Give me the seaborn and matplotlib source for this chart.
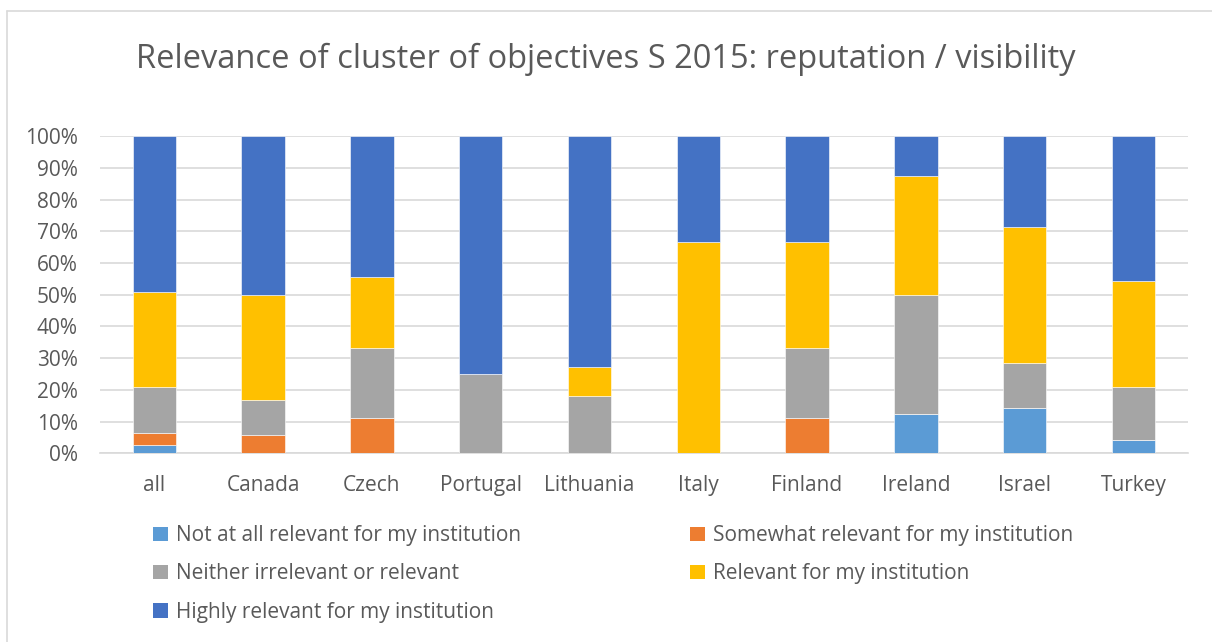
import numpy as np
import pandas as pd
import matplotlib
matplotlib.use("Agg")
import matplotlib.pyplot as plt
import seaborn as sns
from matplotlib.patches import Patch
from matplotlib.lines import Line2D
from matplotlib.ticker import FuncFormatter

# Survey answers per country, share of respondents (%)
countries = ["all", "Canada", "Czech", "Portugal", "Lithuania",
             "Italy", "Finland", "Ireland", "Israel", "Turkey"]
not_relevant = [2.6, 0.0, 0.0, 0.0, 0.0, 0.0, 0.0, 12.5, 14.3, 4.2]
somewhat_relevant = [3.9, 5.6, 11.1, 0.0, 0.0, 0.0, 11.1, 0.0, 0.0, 0.0]
neither = [14.3, 11.1, 22.2, 25.0, 18.2, 0.0, 22.2, 37.5, 14.3, 16.7]
relevant = [29.9, 33.3, 22.2, 0.0, 9.1, 66.7, 33.3, 37.5, 42.8, 33.3]
highly_relevant = [49.3, 50.0, 44.5, 75.0, 72.7, 33.3, 33.4, 12.5, 28.6, 45.8]

series_names = ["Not at all relevant for my institution",
                "Somewhat relevant for my institution",
                "Neither irrelevant or relevant",
                "Relevant for my institution",
                "Highly relevant for my institution"]
series_values = [not_relevant, somewhat_relevant, neither, relevant, highly_relevant]
series_colors = ["#5B9BD5", "#ED7D31", "#A5A5A5", "#FFC000", "#4472C4"]

sns.set_theme(style="white")
plt.rcParams["font.family"] = ["Open Sans", "DejaVu Sans"]
text_color = "#595959"

fig = plt.figure(figsize=(12.12, 6.42), dpi=100)
ax = fig.add_axes([0.0825, 0.294, 0.8975, 0.494])

bottom = np.zeros(len(countries))
for name, vals, col in zip(series_names, series_values, series_colors):
    df = pd.DataFrame({"country": countries, "value": vals})
    sns.barplot(data=df, x="country", y="value", order=countries,
                color=col, width=0.4, bottom=bottom, ax=ax,
                edgecolor="white", linewidth=0.4, saturation=1, zorder=3)
    bottom = bottom + np.array(vals)

ax.set_ylim(0, 100)
ax.set_xlim(-0.5, len(countries) - 0.5)
ax.set_yticks(np.arange(0, 101, 10))
ax.yaxis.set_major_formatter(FuncFormatter(lambda v, p: f"{v:.0f}%"))
ax.grid(axis="y", color="#D9D9D9", linewidth=1.2, zorder=0)
ax.set_axisbelow(True)
for s in ["top", "right", "left"]:
    ax.spines[s].set_visible(False)
ax.spines["bottom"].set_color("#D9D9D9")
ax.spines["bottom"].set_linewidth(1.2)
ax.set_xlabel("")
ax.set_ylabel("")
ax.tick_params(axis="both", length=0, colors=text_color, labelsize=15)
ax.tick_params(axis="x", pad=16)
ax.tick_params(axis="y", pad=16)

fig.text(0.5, 0.908, "Relevance of cluster of objectives S 2015: reputation / visibility",
         ha="center", va="center", fontsize=23.5, color=text_color)

# two-column legend filled row by row
order = [0, 2, 4, 1, 3]
handles = [Patch(facecolor=series_colors[i], edgecolor="none") for i in order]
labels = [series_names[i] for i in order]
leg = fig.legend(handles, labels, ncol=2, loc="upper left",
                 bbox_to_anchor=(0.1195, 0.195), frameon=False,
                 fontsize=15, labelcolor=text_color,
                 handlelength=0.7, handleheight=0.7, handletextpad=0.4,
                 columnspacing=8.1, labelspacing=0.83, borderaxespad=0)

# chart frame
fig.add_artist(Line2D([7 / 1212, 7 / 1212], [0, 1 - 11 / 642],
                      transform=fig.transFigure, color="#D9D9D9", linewidth=1.2))
fig.add_artist(Line2D([7 / 1212, 1], [1 - 11 / 642, 1 - 11 / 642],
                      transform=fig.transFigure, color="#D9D9D9", linewidth=1.2))

fig.savefig("out.png", dpi=100, facecolor="white")
